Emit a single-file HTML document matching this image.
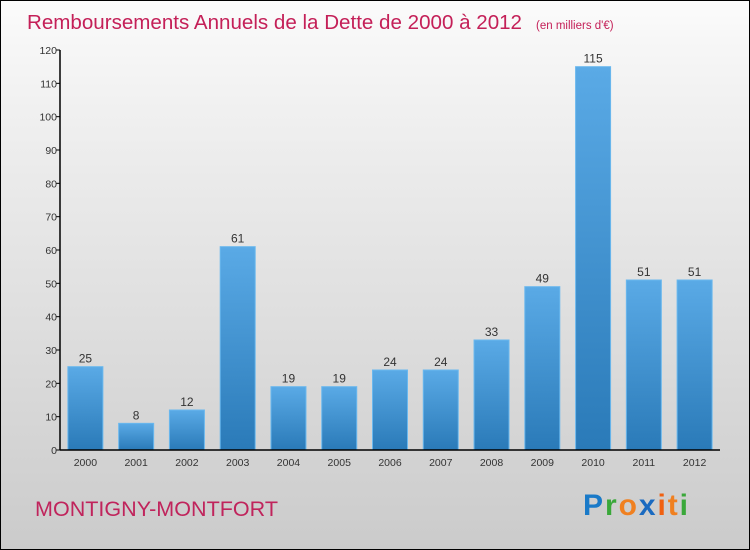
<!DOCTYPE html>
<html><head><meta charset="utf-8"><style>
html,body{margin:0;padding:0}
body{width:750px;height:550px;overflow:hidden;font-family:"Liberation Sans",sans-serif}
#wrap{position:absolute;left:0;top:0;width:748px;height:548px;border:1px solid #000;background:linear-gradient(#fbfbfb,#f0f0f0 20%,#cbcbcb)}
</style></head><body>
<div id="wrap">
<svg id="svg" width="750" height="550" style="position:absolute;left:-1px;top:-1px">
<defs><linearGradient id="bg" x1="0" y1="0" x2="0" y2="1"><stop offset="0" stop-color="#5aaae6"/><stop offset="1" stop-color="#2a7ab8"/></linearGradient></defs>
<text x="27" y="29" font-size="20" fill="#c42058" textLength="495" lengthAdjust="spacingAndGlyphs">Remboursements Annuels de la Dette de 2000 à 2012</text>
<text x="536" y="29" font-size="11.5" fill="#c42058">(en milliers d'€)</text>
<text x="35" y="516" font-size="21" fill="#c0245c" textLength="243" lengthAdjust="spacingAndGlyphs">MONTIGNY-MONTFORT</text>
<text x="583" y="515" font-size="30" font-weight="bold" textLength="105" lengthAdjust="spacing"><tspan fill="#1a7ac8">P</tspan><tspan fill="#3aa83a">r</tspan><tspan fill="#f08020">o</tspan><tspan fill="#1a6ac0">x</tspan><tspan fill="#f06010">i</tspan><tspan fill="#f08020">t</tspan><tspan fill="#3aa83a">i</tspan></text>
<g id="g"></g>
</svg></div>
<script>
const categories=["2000","2001","2002","2003","2004","2005","2006","2007","2008","2009","2010","2011","2012"];
const values=[25,8,12,61,19,19,24,24,33,49,115,51,51];
const yTicks=[0,10,20,30,40,50,60,70,80,90,100,110,120];
const NS="http://www.w3.org/2000/svg";
const g=document.getElementById('g');
const x0=60,x1=720,yb=450,yt=50,ymax=120;
const y=v=>yb-(v/ymax)*(yb-yt);
const bw=(x1-x0)/categories.length;
const cx=i=>x0+bw*(i+0.5);
function mk(t,a,txt){const e=document.createElementNS(NS,t);for(const k in a)e.setAttribute(k,a[k]);if(txt!=null)e.textContent=txt;g.appendChild(e);return e;}
yTicks.forEach(t=>{
 const l=mk('line',{x1:x0-4,x2:x0,y1:y(t),y2:y(t),stroke:'#000'});
 
 
 const tx=mk('text',{x:x0-3,y:y(t)+4,'font-size':10.5,'text-anchor':'end',fill:'#333'},t);
 
 
});
categories.forEach((c,i)=>{
 const r=mk('rect',{x:cx(i)-17.5,y:y(values[i]),width:35,height:yb-y(values[i]),fill:'url(#bg)',stroke:'#6ab8ee','stroke-width':1});
 
 
 const v=mk('text',{x:cx(i),y:y(values[i])-4,'font-size':12,'text-anchor':'middle',fill:'#333'},values[i]);
 
 
 const xl=mk('text',{x:cx(i),y:466,'font-size':10.5,'text-anchor':'middle',fill:'#333'},c);
 
 
});
const ya=mk('line',{x1:x0,x2:x0,y1:yt,y2:yb,stroke:'#000','stroke-width':1.5});


const xa=mk('line',{x1:x0,x2:x1,y1:yb,y2:yb,stroke:'#000','stroke-width':1.5});


</script>
</body></html>
